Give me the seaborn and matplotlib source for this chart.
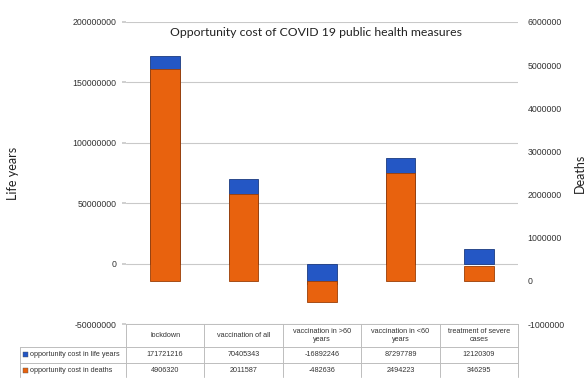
import matplotlib
matplotlib.use("Agg")
import matplotlib.pyplot as plt
from matplotlib.patches import Rectangle
import seaborn as sns
import pandas as pd

categories = ["lockdown", "vaccination of all", "vaccination in >60\nyears",
              "vaccination in <60\nyears", "treatment of severe\ncases"]
life_years = [171721216, 70405343, -16892246, 87297789, 12120309]
deaths = [4906320, 2011587, -482636, 2494223, 346295]
series_names = ["opportunity cost in life years", "opportunity cost in deaths"]
left_ticks = [-50000000, 0, 50000000, 100000000, 150000000, 200000000]
right_ticks = [-1000000, 0, 1000000, 2000000, 3000000, 4000000, 5000000, 6000000]

blue = "#2457C5"
orange = "#E8620E"
grid_c = "#c9c9c9"
text_c = "#333333"

sns.set_theme(style="white")
plt.rcParams["font.family"] = ["Liberation Sans", "DejaVu Sans"]

df = pd.DataFrame({"cat": categories, "life": life_years, "deaths": deaths})

W, H = 588, 385
fig = plt.figure(figsize=(W / 100, H / 100), dpi=100)
L, R, T, B = 126, 518, 22, 324
ax = fig.add_axes([L / W, 1 - B / H, (R - L) / W, (B - T) / H])
ax2 = ax.twinx()

sns.barplot(data=df, x="cat", y="life", ax=ax, color=blue, width=0.38,
            edgecolor="#1a3a80", linewidth=0.6, saturation=1, zorder=2)
sns.barplot(data=df, x="cat", y="deaths", ax=ax2, color=orange, width=0.38,
            edgecolor="#9a3e06", linewidth=0.6, saturation=1, zorder=2)

ax.set_ylim(left_ticks[0], left_ticks[-1])
ax.set_yticks(left_ticks)
ax.set_yticklabels([str(v) for v in left_ticks], fontsize=6.3, color=text_c)
ax2.set_ylim(right_ticks[0], right_ticks[-1])
ax2.set_yticks(right_ticks)
ax2.set_yticklabels([str(v) for v in right_ticks], fontsize=6.3, color=text_c)

ax.set_xlim(-0.5, len(categories) - 0.5)
ax.set_xticks([])
ax2.set_xticks([])
ax.set_xlabel("")
ax2.set_xlabel("")

ax.set_axisbelow(True)
ax.yaxis.grid(True, color=grid_c, linewidth=0.8)
ax.xaxis.grid(False)
ax2.grid(False)
for a in (ax, ax2):
    for s in a.spines.values():
        s.set_visible(False)
ax.tick_params(axis="y", left=True, length=3, color=grid_c, pad=4)
ax2.tick_params(axis="y", right=False, length=0, pad=7)

ax.set_ylabel("Life years", fontsize=9, family=["Lato", "DejaVu Sans"], color="#222222")
ax.yaxis.set_label_coords((19 - L) / (R - L), 0.5)
ax2.set_ylabel("Deaths", fontsize=9, family=["Lato", "DejaVu Sans"], color="#222222")
ax2.yaxis.set_label_coords((574 - L) / (R - L), 0.5)

fig.text(316 / W, 1 - 33 / H, "Opportunity cost of COVID 19 public health measures",
         ha="center", va="center", fontsize=8.8, family=["Lato", "DejaVu Sans"],
         color="#222222")

# data table (drawn in pixel-like coordinates of its own axes)
TL, TR, TT, TB = 20, 518, 324, 385
tax = fig.add_axes([TL / W, 1 - TB / H, (TR - TL) / W, (TB - TT) / H])
tax.set_xlim(0, TR - TL)
tax.set_ylim(TB - TT, 0)
tax.axis("off")
lab_w = L - TL
col_w = (TR - L) / len(categories)
y_head = 23
row_h = 15.5
y_end = 53
line_kw = dict(color="#bdbdbd", linewidth=0.7, clip_on=False)
tax.plot([lab_w, TR - TL], [0, 0], **line_kw)
for k in range(2):
    y = y_head + k * row_h
    tax.plot([0, TR - TL], [y, y], **line_kw)
tax.plot([0, 0], [y_head, y_end], **line_kw)
for k in range(len(categories) + 1):
    x = lab_w + k * col_w
    tax.plot([x, x], [0, y_end], **line_kw)

for k, cat in enumerate(categories):
    xc = lab_w + (k + 0.5) * col_w
    tax.text(xc, y_head / 2, cat, ha="center", va="center", fontsize=5.2,
             color=text_c, linespacing=1.3)
    for r, vals in enumerate([life_years, deaths]):
        tax.text(xc, y_head + (r + 0.5) * row_h, str(vals[k]), ha="center",
                 va="center", fontsize=5.2, color=text_c)

for r, (name, kc) in enumerate(zip(series_names, [blue, orange])):
    yc = y_head + (r + 0.5) * row_h
    tax.add_patch(Rectangle((2.5, yc - 2.5), 5, 5, facecolor=kc,
                            edgecolor="#555555", linewidth=0.3))
    tax.text(9.5, yc, name, ha="left", va="center", fontsize=5.2, color=text_c)

fig.savefig("out.png", dpi=100, facecolor="white")
